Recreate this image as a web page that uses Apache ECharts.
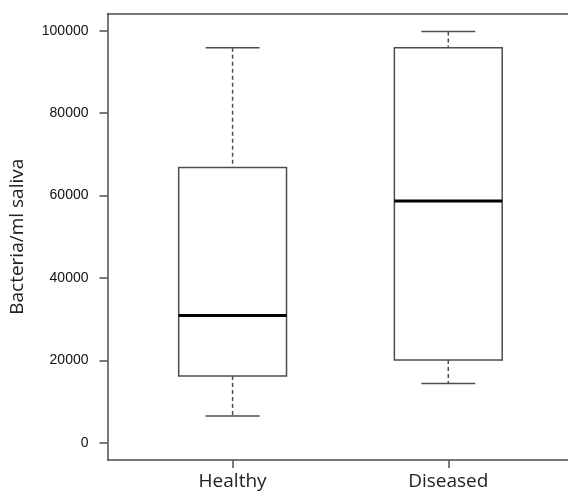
<!DOCTYPE html>
<html>
<head>
<meta charset="utf-8">
<script src="https://cdn.jsdelivr.net/npm/echarts@6/dist/echarts.min.js"></script>
<style>
  html, body { margin: 0; padding: 0; background: #fff; }
  #chart { width: 568px; height: 494px; }
</style>
</head>
<body>
<div id="chart"></div>
<script>
// box statistics
var categories = ['Healthy', 'Diseased']
var lowerWhisker = [6500, 14400]
var q1 = [16200, 20100]
var median = [30900, 58700]
var q3 = [66800, 95900]
var upperWhisker = [95900, 99800]
var yTicks = [0, 20000, 40000, 60000, 80000, 100000]

// x positions 1..n like R's boxplot
var positions = categories.map(function (c, i) { return i + 1 })
var boxData = positions.map(function (p, i) {
  return [p, lowerWhisker[i], q1[i], median[i], q3[i], upperWhisker[i]]
})

var lineColor = '#4d4d4d'
var frameLine = { show: true, onZero: false, lineStyle: { color: lineColor, width: 1.5 } }

function renderItem(params, api) {
  var x = api.value(0)
  var half = api.size([0.25, 0])[0]
  var capHalf = api.size([0.125, 0])[0]
  var pLo = api.coord([x, api.value(1)])
  var pQ1 = api.coord([x, api.value(2)])
  var pMed = api.coord([x, api.value(3)])
  var pQ3 = api.coord([x, api.value(4)])
  var pHi = api.coord([x, api.value(5)])
  var cx = pMed[0]
  var solid = { stroke: lineColor, lineWidth: 1.5, fill: null }
  var dashed = { stroke: lineColor, lineWidth: 1.5, lineDash: [4, 3] }
  return {
    type: 'group',
    children: [
      { type: 'line', shape: { x1: cx, y1: pHi[1], x2: cx, y2: pQ3[1] }, style: dashed },
      { type: 'line', shape: { x1: cx, y1: pQ1[1], x2: cx, y2: pLo[1] }, style: dashed },
      { type: 'line', shape: { x1: cx - capHalf, y1: pHi[1], x2: cx + capHalf, y2: pHi[1] }, style: solid },
      { type: 'line', shape: { x1: cx - capHalf, y1: pLo[1], x2: cx + capHalf, y2: pLo[1] }, style: solid },
      {
        type: 'rect',
        shape: { x: cx - half, y: pQ3[1], width: half * 2, height: pQ1[1] - pQ3[1] },
        style: { stroke: lineColor, lineWidth: 1.5, fill: '#fff' }
      },
      { type: 'line', shape: { x1: cx - half, y1: pMed[1], x2: cx + half, y2: pMed[1] }, style: { stroke: '#000', lineWidth: 3 } }
    ]
  }
}

var chart = echarts.init(document.getElementById('chart'))
chart.setOption({
  animation: false,
  grid: {
    left: 107.5,
    right: 0,
    top: 13.5,
    bottom: 34
  },
  xAxis: [{
    type: 'value',
    position: 'bottom',
    min: 0.42,
    max: 2.555,
    splitLine: { show: false },
    axisLine: frameLine,
    axisTick: {
      show: true,
      length: 8,
      customValues: positions,
      lineStyle: { color: lineColor, width: 1.5 }
    },
    axisLabel: {
      customValues: positions,
      margin: 12,
      fontFamily: 'Open Sans',
      fontSize: 19,
      color: '#222',
      formatter: function (v) { return categories[Math.round(v) - 1] || '' }
    }
  }, {
    // top side of the plot frame
    type: 'value',
    position: 'top',
    min: 0.42,
    max: 2.555,
    splitLine: { show: false },
    axisLine: frameLine,
    axisTick: { show: false },
    axisLabel: { show: false }
  }],
  yAxis: {
    type: 'value',
    min: -4200,
    max: 104200,
    name: 'Bacteria/ml saliva',
    nameLocation: 'middle',
    nameGap: 80,
    nameTextStyle: { fontFamily: 'Open Sans', fontSize: 19, color: '#222' },
    splitLine: { show: false },
    axisLine: frameLine,
    axisTick: {
      show: true,
      length: 8,
      customValues: yTicks,
      lineStyle: { color: lineColor, width: 1.5 }
    },
    axisLabel: {
      customValues: yTicks,
      margin: 19,
      fontFamily: 'Liberation Sans',
      fontSize: 14,
      color: '#111',
      formatter: function (v) { return String(v) }
    }
  },
  series: [{
    type: 'custom',
    renderItem: renderItem,
    encode: { x: 0, y: [1, 2, 3, 4, 5] },
    data: boxData
  }]
})
</script>
</body>
</html>
